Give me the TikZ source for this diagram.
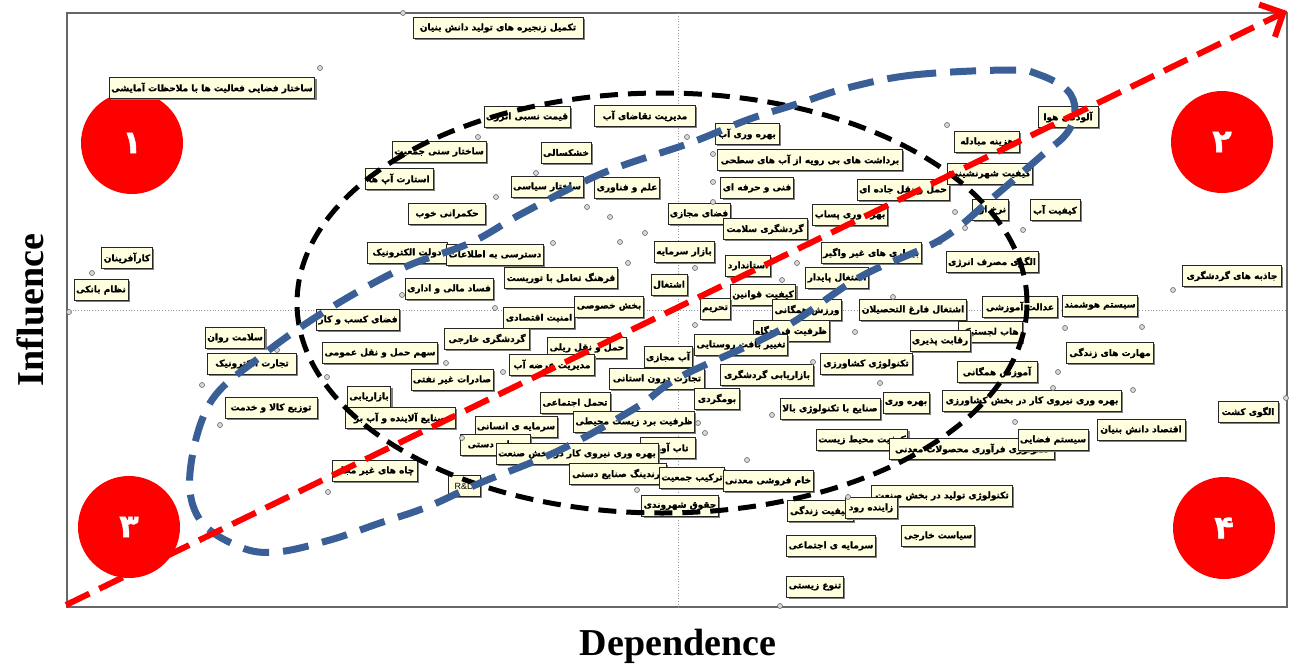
\documentclass[tikz,border=0pt]{standalone}
\usepackage{fontspec}
\newfontfamily\arabicfont[Script=Arabic, BoldFeatures={FakeBold=1.2}]{DejaVu Sans}
\newfontfamily\axisfont{Liberation Serif}
\newfontfamily\latinsans{Liberation Sans}
\TeXXeTstate=1
\usetikzlibrary{shadows,arrows.meta}
\pgfdeclarelayer{background}
\pgfsetlayers{background,main}
\newcommand\fa[1]{{\arabicfont\bfseries #1}}
\definecolor{boxfill}{RGB}{255,255,224}
\definecolor{ellblue}{RGB}{58,95,150}
\definecolor{quadred}{RGB}{255,0,0}
\tikzset{
  lbl/.style={draw=black!85, line width=0.6pt, fill=boxfill,
    drop shadow={shadow xshift=1.8pt, shadow yshift=-1.8pt, fill=black!50, opacity=1},
    inner sep=2pt, minimum height=21pt, font=\fontsize{9}{10}\selectfont, text=black},
  pinnode/.style={circle, draw=black!60, fill=black!15, line width=0.6pt, inner sep=0pt, minimum size=5pt},
  leader/.style={draw=black!35, line width=0.6pt},
  quad/.style={circle, fill=quadred, minimum size=102pt, inner sep=0pt, text=white, font=\fontsize{32}{32}\selectfont},
  midline/.style={draw=black!40, dotted, line width=0.8pt},
  frameline/.style={draw=black!60, line width=1.2pt},
  redarrow/.style={draw=quadred, line width=6pt, dash pattern=on 26pt off 11pt,
    -{Straight Barb[length=18pt,width=36pt]}},
  blueloop/.style={draw=ellblue, line width=7pt, dash pattern=on 26pt off 14pt},
  blackloop/.style={draw=black, line width=5pt, dash pattern=on 18pt off 10pt},
  axislabel/.style={font=\axisfont\bfseries\fontsize{38}{40}\selectfont}
}
\newcommand\lab[4]{\node[lbl, minimum width=#3pt] (#1) at (#2) {\fa{#4}};}
\newcommand\pinto[3]{\node[pinnode] (p#1) at (#2) {};
  \begin{pgfonlayer}{background}\draw[leader] (p#1) -- (#1.#3);\end{pgfonlayer}}
\begin{document}
\begin{tikzpicture}[x=1pt,y=-1pt]
\useasboundingbox (0,0) rectangle (1289,666);
\fill[white] (0,0) rectangle (1289,666);

% plot frame and quadrant dividers
\draw[frameline] (67,13) rectangle (1287,607);
\draw[midline] (678,13) -- (678,607);
\draw[midline] (67,310) -- (1287,310);

% axis titles
\node[axislabel, rotate=90] (yaxis) at (30,310) {Influence};
\node[axislabel] (xaxis) at (678,646) {Dependence};

% quadrant markers
\node[quad] (q1) at (132,143) {\fa{۱}};
\node[quad] (q2) at (1222,142) {\fa{۲}};
\node[quad] (q3) at (129,527) {\fa{۳}};
\node[quad] (q4) at (1224,528) {\fa{۴}};

% variables
\lab{tz}{498,28}{170}{\beginR تکمیل زنجیره های تولید دانش بنیان\endR}
\lab{sf}{212,88}{205}{\beginR ساختار فضایی فعالیت ها با ملاحظات آمایشی\endR}
\lab{qn}{527,117}{83}{\beginR قیمت نسبی انرژی\endR}
\lab{mt}{645,116}{101}{\beginR مدیریت تقاضای آب\endR}
\lab{sj}{439,152}{92}{\beginR ساختار سنی جمعیت\endR}
\lab{kh}{566,153}{45}{\beginR خشکسالی\endR}
\lab{sa}{399,179}{68}{\beginR استارت آپ ها\endR}
\lab{ss}{547,187}{65}{\beginR ساختار سیاسی\endR}
\lab{ef}{627,188}{60}{\beginR علم و فناوری\endR}
\lab{bv}{747,134}{64}{\beginR بهره وری آب\endR}
\lab{bb}{810,160}{185}{\beginR برداشت های بی رویه از آب های سطحی\endR}
\lab{fh}{757,188}{69}{\beginR فنی و حرفه ای\endR}
\lab{fm}{699,214}{62}{\beginR فضای مجازی\endR}
\lab{hj}{903,190}{90}{\beginR حمل و نقل جاده ای\endR}
\lab{hm}{987,142}{65}{\beginR هزینه مبادله\endR}
\lab{ah}{1068,117}{60}{\beginR آلودگی هوا\endR}
\lab{ksh}{990,174}{76}{\beginR کیفیت شهرنشینی\endR}
\lab{na}{990,210}{35}{\beginR نرخ ارز\endR}
\lab{ka}{1055,210}{50}{\beginR کیفیت آب\endR}
\lab{gh}{447,214}{77}{\beginR حکمرانی خوب\endR}
\lab{bp}{850,215}{62}{\beginR بهره وری پساب\endR}
\lab{gs}{765,229}{84}{\beginR گردشگری سلامت\endR}
\lab{bs}{684,252}{58}{\beginR بازار سرمایه\endR}
\lab{bg}{871,253}{97}{\beginR بیماری های غیر واگیر\endR}
\lab{am}{992,262}{90}{\beginR الگوی مصرف انرژی\endR}
\lab{de}{407,253}{80}{\beginR دولت الکترونیک\endR}
\lab{dsa}{495,255}{95}{\beginR دسترسی به اطلاعات\endR}
\lab{st}{748,266}{45}{\beginR استاندارد\endR}
\lab{ep}{837,278}{62}{\beginR اشتغال پایدار\endR}
\lab{jg}{1232,276}{99}{\beginR جاذبه های گردشگری\endR}
\lab{ft}{561,278}{113}{\beginR فرهنگ تعامل با توریست\endR}
\lab{es}{669,285}{32}{\beginR اشتغال\endR}
\lab{kq}{763,295}{61}{\beginR کیفیت قوانین\endR}
\lab{fsd}{449,289}{87}{\beginR فساد مالی و اداری\endR}
\lab{kr}{127,258}{50}{\beginR کارآفرینان\endR}
\lab{nb}{101,290}{52}{\beginR نظام بانکی\endR}
\lab{fk}{358,320}{83}{\beginR فضای کسب و کار\endR}
\lab{ae}{539,318}{68}{\beginR امنیت اقتصادی\endR}
\lab{bk}{609,307}{68}{\beginR بخش خصوصی\endR}
\lab{th}{715,309}{30}{\beginR تحریم\endR}
\lab{vh}{807,310}{69}{\beginR ورزش همگانی\endR}
\lab{eft}{913,310}{107}{\beginR اشتغال فارغ التحصیلان\endR}
\lab{aa}{1020,307}{75}{\beginR عدالت آموزشی\endR}
\lab{sh}{1100,306}{69}{\beginR سیستم هوشمند\endR}
\lab{zf}{791,331}{73}{\beginR ظرفیت فرودگاه\endR}
\lab{hl}{990,332}{64}{\beginR هاب لجستیک\endR}
\lab{rp}{940,341}{56}{\beginR رقابت پذیری\endR}
\lab{mz}{1110,353}{87}{\beginR مهارت های زندگی\endR}
\lab{tb}{741,345}{92}{\beginR تغییر بافت روستایی\endR}
\lab{amj}{668,357}{45}{\beginR آب مجازی\endR}
\lab{hr}{587,348}{75}{\beginR حمل و نقل ریلی\endR}
\lab{gk}{487,339}{85}{\beginR گردشگری خارجی\endR}
\lab{sho}{380,353}{106}{\beginR سهم حمل و نقل عمومی\endR}
\lab{sr}{235,338}{56}{\beginR سلامت روان\endR}
\lab{te}{252,364}{89}{\beginR تجارت الکترونیک\endR}
\lab{tk}{271,408}{92}{\beginR توزیع کالا و خدمت\endR}
\lab{ba}{369,397}{42}{\beginR بازاریابی\endR}
\lab{sg}{452,380}{79}{\beginR صادرات غیر نفتی\endR}
\lab{ma}{552,365}{85}{\beginR مدیریت عرضه آب\endR}
\lab{td}{657,379}{95}{\beginR تجارت درون استانی\endR}
\lab{bgr}{767,375}{93}{\beginR بازاریابی گردشگری\endR}
\lab{tkz}{866,364}{92}{\beginR تکنولوژی کشاورزی\endR}
\lab{ahm}{997,372}{80}{\beginR آموزش همگانی\endR}
\lab{sab}{400,418}{110}{\beginR صنایع آلاینده و آب بر\endR}
\lab{tej}{575,403}{70}{\beginR تحمل اجتماعی\endR}
\lab{bo}{717,399}{45}{\beginR بومگردی\endR}
\lab{stb}{830,409}{100}{\beginR صنایع با تکنولوژی بالا\endR}
\lab{bvr}{906,403}{43}{\beginR بهره وری\endR}
\lab{bnk}{1032,401}{179}{\beginR بهره وری نیروی کار در بخش کشاورزی\endR}
\lab{ed}{1141,430}{88}{\beginR اقتصاد دانش بنیان\endR}
\lab{ak}{1248,412}{60}{\beginR الگوی کشت\endR}
\lab{zb}{634,422}{118}{\beginR ظرفیت برد زیست محیطی\endR}
\lab{si}{516,427}{78}{\beginR سرمایه ی انسانی\endR}
\lab{sd}{495,445}{70}{\beginR صنایع دستی\endR}
\lab{ta}{668,448}{55}{\beginR تاب آوری\endR}
\lab{bns}{577,454}{160}{\beginR بهره وری نیروی کار در بخش صنعت\endR}
\lab{brs}{618,474}{97}{\beginR برندینگ صنایع دستی\endR}
\lab{tj}{692,478}{52}{\beginR ترکیب جمعیت\endR}
\lab{kf}{768,481}{88}{\beginR خام فروشی معدنی\endR}
\lab{hs}{680,506}{74}{\beginR حقوق شهروندی\endR}
\lab{kmz}{862,440}{89}{\beginR کیفیت محیط زیست\endR}
\lab{tf}{972,449}{165}{\beginR تکنولوژی فرآوری محصولات معدنی\endR}
\lab{sfz}{1053,440}{63}{\beginR سیستم فضایی\endR}
\lab{tt}{942,496}{141}{\beginR تکنولوژی تولید در بخش صنعت\endR}
\lab{kz}{820,511}{66}{\beginR کیفیت زندگی\endR}
\lab{zr}{871,508}{52}{\beginR زاینده رود\endR}
\lab{sk}{938,536}{73}{\beginR سیاست خارجی\endR}
\lab{sej}{831,546}{87}{\beginR سرمایه ی اجتماعی\endR}
\lab{tzs}{815,587}{56}{\beginR تنوع زیستی\endR}
\lab{cg}{375,471}{85}{\beginR چاه های غیر مجاز\endR}
\node[lbl, minimum width=32pt, font=\latinsans\fontsize{9}{10}\selectfont] (rd) at (464,486) {R\&D};

% data points with their leaders
\pinto{tz}{403,13}{north west}
\pinto{sf}{320,68}{north east}
\pinto{qn}{478,137}{south west}
\pinto{mt}{687,137}{south east}
\pinto{kh}{536,173}{south west}
\pinto{bb}{713,154}{west}
\pinto{fh}{713,182}{west}
\pinto{fm}{713,202}{north east}
\pinto{hm}{947,125}{north west}
\pinto{na}{955,212}{west}
\pinto{am}{965,228}{north west}
\pinto{hj}{893,297}{south east}
\pinto{jg}{1173,290}{south west}
\pinto{ka}{1023,230}{south west}
\pinto{kr}{92,273}{south west}
\pinto{nb}{69,312}{south west}
\pinto{aa}{1065,328}{south east}
\pinto{sh}{1142,327}{south east}
\pinto{mz}{1058,372}{south west}
\pinto{bnk}{1133,390}{north east}
\pinto{ak}{1286,398}{north east}
\pinto{sfz}{1015,422}{north west}
\pinto{eft}{855,332}{south west}
\pinto{tkz}{813,362}{west}
\pinto{bvr}{880,383}{north west}
\pinto{stb}{772,415}{west}
\pinto{tzs}{780,606}{south west}
\pinto{cg}{328,492}{south west}
\pinto{tk}{220,425}{south west}
\pinto{te}{202,385}{south west}
\pinto{sr}{277,350}{south east}
\pinto{sho}{327,377}{south west}
\pinto{gk}{446,363}{south west}
\pinto{fsd}{402,295}{south west}
\pinto{ae}{495,308}{north west}
\pinto{dsa}{553,243}{north east}
\pinto{ft}{628,263}{north east}
\pinto{es}{695,268}{north east}
\pinto{sa}{620,242}{south east}
\pinto{gh}{496,197}{north east}
\pinto{ef}{587,207}{south west}
\pinto{ss}{610,217}{south east}
\pinto{bs}{645,233}{north west}
\pinto{ep}{797,263}{north west}
\pinto{kq}{782,280}{north east}
\pinto{bg}{940,242}{north east}
\pinto{hl}{1053,388}{south}
\pinto{tb}{695,325}{north west}
\pinto{sg}{503,372}{north east}
\pinto{sd}{462,438}{west}
\pinto{brs}{637,490}{south}
\pinto{ta}{705,433}{north east}
\pinto{kf}{747,460}{north west}
\pinto{sej}{698,423}{north west}
\pinto{kmz}{848,497}{south}

% clusters and trend
\draw[blackloop] (662,303) ellipse [x radius=365pt, y radius=210pt];
\draw[blueloop] plot[smooth cycle, tension=0.6] coordinates {
  (1010,70) (913,75) (847,88) (800,103) (747,120) (690,143) (603,173)
  (523,213) (470,243) (403,268) (327,310) (260,357) (210,403) (190,473)
  (200,520) (240,547) (277,552) (330,540) (380,523) (427,507) (480,483)
  (560,450) (637,407) (680,377) (780,330) (860,277) (940,240) (990,200)
  (1040,157) (1067,133) (1075,110) (1067,90) (1040,75)};
\coordinate (trendstart) at (66,605);
\coordinate (trendend) at (1287,11);
\draw[redarrow] (trendstart) -- (trendend);
\end{tikzpicture}
\end{document}
